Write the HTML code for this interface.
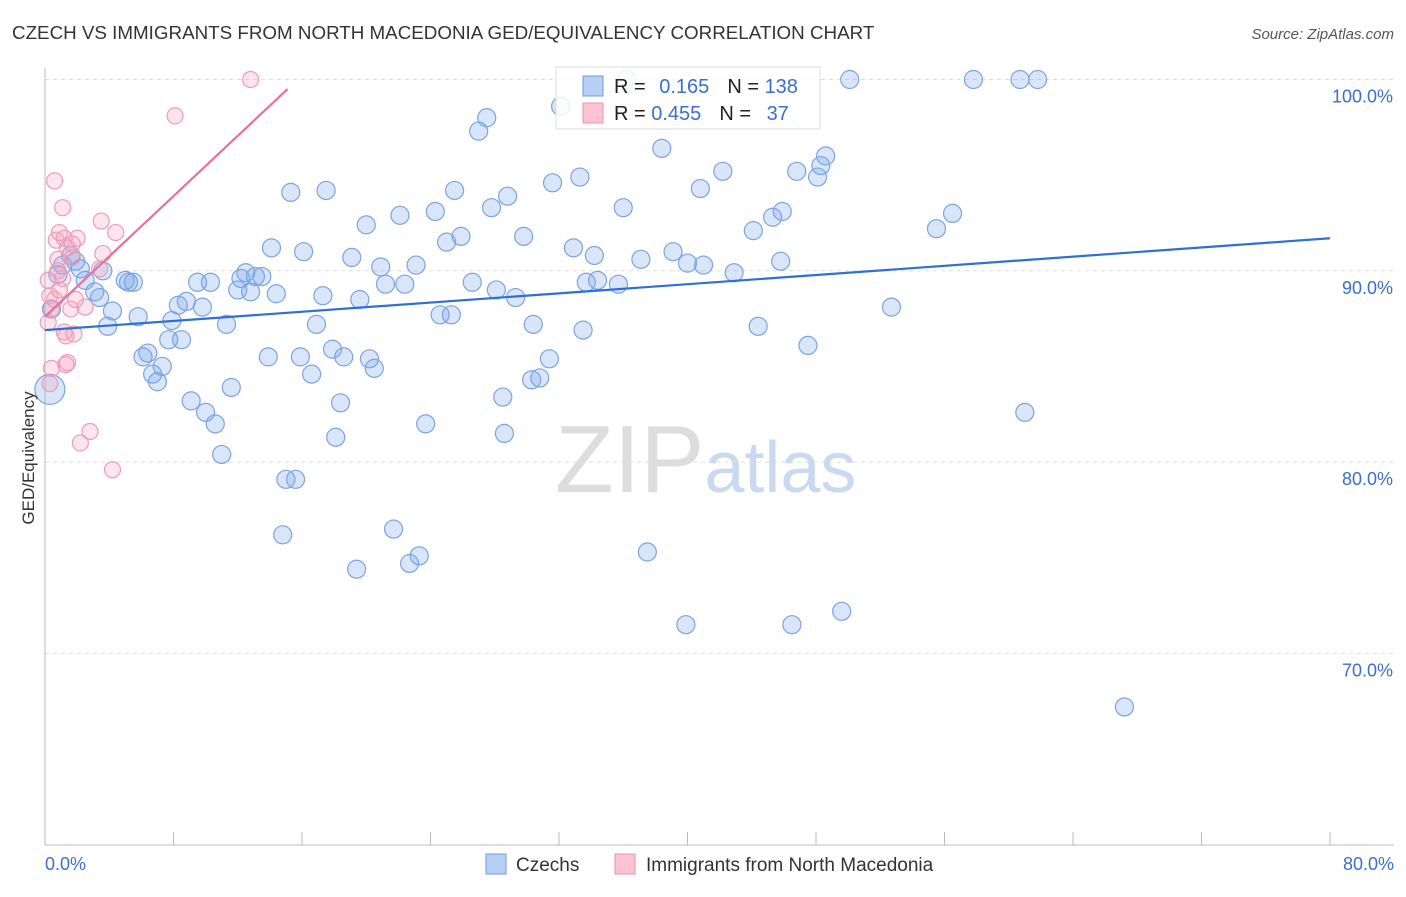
<!DOCTYPE html>
<html><head><meta charset="utf-8"><style>
body{margin:0;background:#fff;font-family:"Liberation Sans",sans-serif}
svg text{font-family:"Liberation Sans",sans-serif}
</style></head><body>
<svg id="chart" width="1406" height="892" xmlns="http://www.w3.org/2000/svg">
<text x="12" y="39" font-size="18.8" fill="#333">CZECH VS IMMIGRANTS FROM NORTH MACEDONIA GED/EQUIVALENCY CORRELATION CHART</text>
<text x="1394" y="39" font-size="15" fill="#555" text-anchor="end" font-style="italic">Source: ZipAtlas.com</text>
<text x="555" y="492" font-size="96" fill="#ddd" font-family="Liberation Serif">ZIP<tspan fill="#c9d9f2" font-family="Liberation Sans" font-size="72">atlas</tspan></text>
<g id="grid"></g><g id="axes"></g><g id="marks"></g>
<text transform="translate(34,458) rotate(-90)" font-size="17" fill="#333" text-anchor="middle">GED/Equivalency</text>
<g>
<rect x="556" y="67" width="264" height="62" fill="rgba(255,255,255,0.85)" stroke="#ddd"/>
<rect x="583" y="76" width="20" height="20" fill="#b8d0f5" stroke="#6c9be0"/>
<rect x="583" y="103" width="20" height="20" fill="#fcc3d3" stroke="#f08fb0"/>
<text x="614" y="93" font-size="20" fill="#222">R = <tspan fill="#3a6fd0" dx="8">0.165</tspan><tspan dx="18" fill="#222">N = </tspan><tspan fill="#3a6fd0">138</tspan></text>
<text x="614" y="120" font-size="20" fill="#222">R = <tspan fill="#3a6fd0">0.455</tspan><tspan dx="18" fill="#222">N = </tspan><tspan fill="#3a6fd0" dx="10">37</tspan></text>
</g>
<g>
<rect x="486" y="854" width="20" height="20" fill="#b8d0f5" stroke="#6c9be0"/>
<text x="516" y="871" font-size="19" fill="#333">Czechs</text>
<rect x="615" y="854" width="20" height="20" fill="#fcc3d3" stroke="#f08fb0"/>
<text x="646" y="871" font-size="19" fill="#333">Immigrants from North Macedonia</text>
</g>
</svg>
<script>
const yTicks=[100,90,80,70];
const yTickLabels=["100.0%","90.0%","80.0%","70.0%"];
const xEndLabels=["0.0%","80.0%"];
const czechX=[0.3,0.4,0.8,1.1,1.6,1.9,2.2,2.5,3.1,3.4,3.6,3.9,4.2,5.0,5.2,5.5,5.8,6.1,6.4,6.7,7.0,7.3,7.7,7.9,8.3,8.5,8.8,9.1,9.5,9.8,10.0,10.3,10.6,11.0,11.3,11.6,12.0,12.2,12.5,12.8,13.1,13.5,13.9,14.1,14.4,15.0,15.3,15.6,14.8,15.9,16.1,16.6,16.9,17.3,17.5,17.9,18.1,18.4,18.6,19.1,19.4,19.6,20.0,20.2,20.5,20.9,21.2,21.7,22.1,22.4,22.7,23.1,23.3,23.7,24.3,24.6,25.0,25.3,25.5,25.9,26.6,27.0,27.5,27.8,28.1,28.5,28.6,28.8,29.3,29.8,30.4,30.3,30.8,31.4,31.6,32.1,32.9,33.3,33.5,33.7,34.2,34.4,35.7,36.0,36.2,37.1,37.5,38.4,39.1,39.9,40.0,40.8,41.0,42.2,42.9,44.1,44.4,45.3,45.8,45.9,46.5,46.8,47.5,48.1,48.3,48.6,49.6,50.1,52.7,55.5,56.5,57.8,60.7,61.0,61.8,67.2];
const czechY=[83.8,88.0,89.8,90.3,90.8,90.5,90.1,89.5,88.9,88.6,90.0,87.1,87.9,89.5,89.4,89.4,87.6,85.5,85.7,84.6,84.2,85.0,86.4,87.4,88.2,86.4,88.4,83.2,89.4,88.1,82.6,89.4,82.0,80.4,87.2,83.9,89.0,89.6,89.9,88.9,89.7,89.7,85.5,91.2,88.8,79.1,94.1,79.1,76.2,85.5,91.0,84.6,87.2,88.7,94.2,85.9,81.3,83.1,85.5,90.7,74.4,88.5,92.4,85.4,84.9,90.2,89.3,76.5,92.9,89.3,74.7,90.3,75.1,82.0,93.1,87.7,91.5,87.7,94.2,91.8,89.4,97.3,98.0,93.3,89.0,83.4,81.5,93.9,88.6,91.8,87.2,84.3,84.4,85.4,94.6,98.6,91.2,94.9,86.9,89.4,90.8,89.5,89.3,93.3,100.0,90.6,75.3,96.4,91.0,71.5,90.4,94.3,90.3,95.2,89.9,92.1,87.1,92.8,90.5,93.1,71.5,95.2,86.1,94.9,95.5,96.0,72.2,100,88.1,92.2,93.0,100,100,82.6,100,67.2];
const mkX=[0.3,0.3,0.4,0.6,0.6,0.7,0.8,0.9,1.1,1.1,1.2,1.2,1.3,1.4,1.4,1.6,1.7,1.8,1.9,2.0,2.2,2.5,2.8,3.4,3.5,3.6,4.2,4.4,8.1,12.8,0.2,0.8,0.4,0.9,0.2,1.3,1.7];
const mkY=[88.7,84.1,88.0,94.7,88.5,91.6,90.0,92.0,93.3,89.6,91.7,86.8,85.1,85.2,91.2,88.0,90.7,86.7,88.5,91.7,81.0,88.1,81.6,90.1,92.6,90.9,79.6,92.0,98.1,100,87.3,90.6,84.9,89.0,89.5,86.6,91.4];
const czechTrend=[[0,86.9],[80,91.7]];
const mkTrend=[[0,87.6],[15.1,99.5]];
const NS="http://www.w3.org/2000/svg";
const X=v=>45+v/80*1285;
const Y=v=>79.5+(100-v)*19.13;
function mk(tag,attrs,parent){const e=document.createElementNS(NS,tag);for(const k in attrs)e.setAttribute(k,attrs[k]);document.getElementById(parent).appendChild(e);return e;}
yTicks.forEach((t,i)=>{
 const l=mk('line',{x1:45,x2:1394,y1:Y(t),y2:Y(t),stroke:'#ddd','stroke-dasharray':'4,4'},'grid');
 
 
 const tx=mk('text',{x:1393,y:Y(t)+23,'font-size':18,fill:'#3a6fd0','text-anchor':'end'},'axes');
 tx.textContent=yTickLabels[i];
 
 
});
const ax=mk('line',{x1:45,x2:1394,y1:845,y2:845,stroke:'#bbb'},'axes');


const ay=mk('line',{x1:45,x2:45,y1:68,y2:845,stroke:'#bbb'},'axes');


for(let i=0;i<=10;i++){const t=mk('line',{x1:X(i*8),x2:X(i*8),y1:832,y2:845,stroke:'#bbb'},'axes');
 
 }
[[0,'start'],[80,'end']].forEach((p,i)=>{const t=mk('text',{x:i?1394:45,y:870,'font-size':18,fill:'#3a6fd0','text-anchor':p[1]},'axes');t.textContent=xEndLabels[i];
 
 });
czechX.forEach((x,i)=>{const c=mk('circle',{cx:X(x),cy:Y(czechY[i]),r:i===0?15:9,fill:'rgba(120,165,235,0.28)',stroke:'#7aa3e3','stroke-width':1.2},'marks');
 
 });
mkX.forEach((x,i)=>{const c=mk('circle',{cx:X(x),cy:Y(mkY[i]),r:8,fill:'rgba(245,160,190,0.28)',stroke:'#f09ab8','stroke-width':1.2},'marks');
 
 });
const l1=mk('line',{x1:X(czechTrend[0][0]),y1:Y(czechTrend[0][1]),x2:X(czechTrend[1][0]),y2:Y(czechTrend[1][1]),stroke:'#2f6fd6','stroke-width':2.2},'marks');


const l2=mk('line',{x1:X(mkTrend[0][0]),y1:Y(mkTrend[0][1]),x2:X(mkTrend[1][0]),y2:Y(mkTrend[1][1]),stroke:'#e8709a','stroke-width':2.2},'marks');


</script>
</body></html>
